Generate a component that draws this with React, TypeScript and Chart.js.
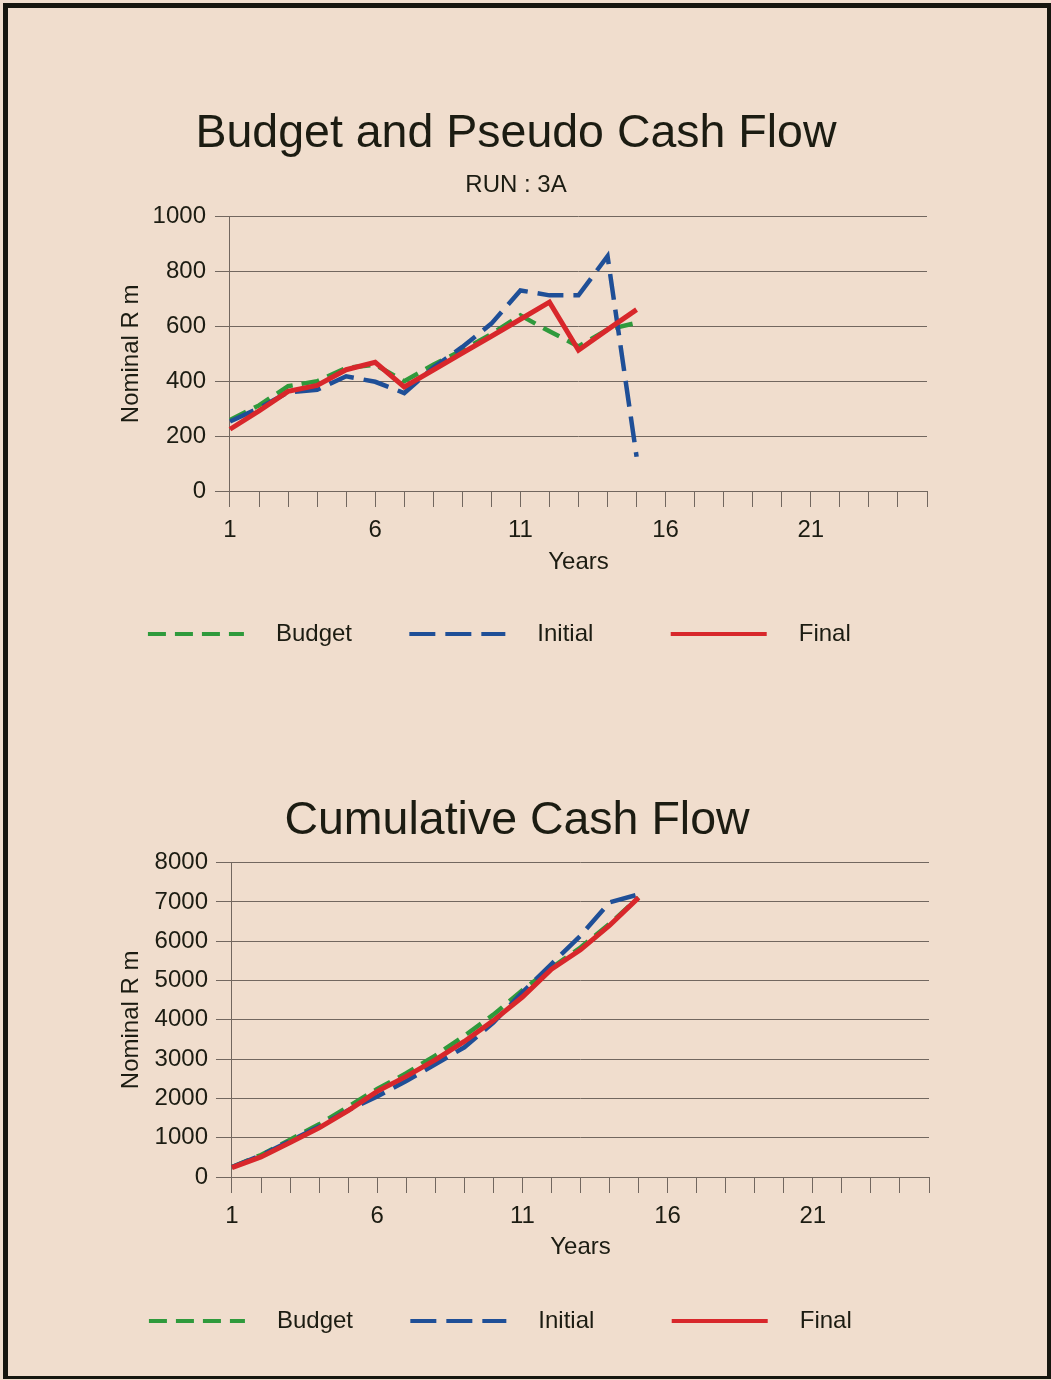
import React, { useEffect, useRef } from 'react';
import { Chart, registerables } from 'chart.js';

Chart.register(...registerables);

// ---- data ----
const years = ['1', '2', '3', '4', '5', '6', '7', '8', '9', '10', '11', '12', '13', '14', '15', '16', '17', '18', '19', '20', '21', '22', '23', '24', '25'];

const budgetFlow = [259, 312, 382, 400, 448, 460, 400, 460, 513, 572, 640, 582, 527, 588, 613];
const initialFlow = [253, 302, 360, 369, 418, 398, 357, 450, 525, 610, 731, 713, 713, 856, 125];
const finalFlow = [225, 292, 363, 385, 442, 469, 379, 441, 503, 564, 626, 688, 513, 588, 661];

const budgetCum = [253, 560, 950, 1340, 1790, 2240, 2640, 3090, 3590, 4130, 4750, 5320, 5840, 6440, 7110];
const initialCum = [253, 555, 915, 1285, 1700, 2050, 2440, 2870, 3300, 3930, 4700, 5420, 6140, 6990, 7190];
const finalCum = [240, 510, 880, 1250, 1690, 2180, 2560, 2980, 3450, 3980, 4580, 5290, 5780, 6400, 7110];

const seriesNames = ['Budget', 'Initial', 'Final'];

// ---- styles ----
const FONT = "'Liberation Sans', Arial, Helvetica, sans-serif";
const TEXT = '#1c1c12';
const GRID = '#72675f';
const BG = '#f0ddcd';
const GREEN = '#2f9a3c';
const BLUE = '#1f4f97';
const RED = '#d8272b';
const COLORS = [GREEN, BLUE, RED];
const DASHES = [[18, 9], [26, 10], []];
const WIDTHS = [4.5, 4.5, 5];

type Cfg = {
  title: string;
  subtitle?: string;
  data: number[][];
  yMax: number;
  yStep: number;
  layout: { left: number; right: number; top: number; bottom: number };
  titlePad: { top: number; bottom: number };
  subtitlePad: { top: number; bottom: number };
  yTitlePad: { top: number; bottom: number };
  yTickPad: number;
  yTickLen: number;
  xTickPad: number;
  xTitlePad: { top: number; bottom: number };
};

function buildConfig(c: Cfg): any {
  const orders = [2, 1, 0];
  const lead = '   ';
  const trail = ['     ', '        ', '     '];
  return {
    type: 'line',
    data: {
      labels: years,
      datasets: c.data.map((d, i) => ({
        label: seriesNames[i],
        data: d,
        borderColor: COLORS[i],
        backgroundColor: COLORS[i],
        borderWidth: WIDTHS[i],
        borderDash: DASHES[i],
        pointRadius: 0,
        tension: 0,
        fill: false,
        order: orders[i],
      })),
    },
    options: {
      responsive: false,
      animation: false,
      layout: { padding: c.layout },
      plugins: {
        tooltip: { enabled: false },
        title: {
          display: true,
          text: c.title,
          color: TEXT,
          font: { family: FONT, size: 46.5, weight: 'normal', lineHeight: 1.2 },
          padding: c.titlePad,
        },
        subtitle: {
          display: !!c.subtitle,
          text: c.subtitle || '',
          color: TEXT,
          font: { family: FONT, size: 24, weight: 'normal', lineHeight: 1.2 },
          padding: c.subtitlePad,
        },
        legend: {
          display: true,
          position: 'bottom',
          align: 'center',
          labels: {
            usePointStyle: true,
            pointStyle: 'line',
            pointStyleWidth: 96,
            padding: 24,
            color: TEXT,
            font: { family: FONT, size: 24, lineHeight: 1.2 },
            sort: (a: any, b: any) => a.datasetIndex - b.datasetIndex,
            generateLabels: (chart: any) =>
              Chart.defaults.plugins.legend.labels
                .generateLabels(chart)
                .map((l: any) => ({
                  ...l,
                  text: lead + l.text + trail[l.datasetIndex],
                  lineWidth: 4,
                  lineDash: DASHES[l.datasetIndex],
                  strokeStyle: COLORS[l.datasetIndex],
                  lineCap: 'butt',
                })),
          },
        },
      },
      scales: {
        x: {
          type: 'category',
          offset: false,
          border: { display: true, color: GRID, width: 1 },
          grid: { drawOnChartArea: false, drawTicks: true, tickLength: 16, color: GRID, lineWidth: 1 },
          ticks: {
            autoSkip: false,
            maxRotation: 0,
            padding: c.xTickPad,
            color: TEXT,
            font: { family: FONT, size: 24, lineHeight: 1.2 },
            callback: (_v: any, i: number) => (i % 5 === 0 ? years[i] : ''),
          },
          title: {
            display: true,
            text: 'Years',
            color: TEXT,
            font: { family: FONT, size: 24, lineHeight: 0.5 },
            padding: c.xTitlePad,
          },
        },
        y: {
          min: 0,
          max: c.yMax,
          border: { display: true, color: GRID, width: 1 },
          grid: { drawOnChartArea: true, drawTicks: true, tickLength: c.yTickLen, color: GRID, lineWidth: 1 },
          ticks: {
            stepSize: c.yStep,
            padding: c.yTickPad,
            color: TEXT,
            font: { family: FONT, size: 24, lineHeight: 1.2 },
            callback: (v: any) => String(v),
          },
          title: {
            display: true,
            text: 'Nominal R m',
            color: TEXT,
            font: { family: FONT, size: 24, lineHeight: 1.0 },
            padding: c.yTitlePad,
          },
        },
      },
    },
  };
}

function ChartCanvas({ cfg, top, height }: { cfg: Cfg; top: number; height: number }) {
  const ref = useRef<HTMLCanvasElement | null>(null);
  useEffect(() => {
    if (!ref.current) return;
    const chart = new Chart(ref.current, buildConfig(cfg));
    return () => chart.destroy();
  }, []);
  return (
    <canvas
      ref={ref}
      width={1051}
      height={height}
      style={{ position: 'absolute', left: 0, top, width: 1051, height }}
    />
  );
}

const cfgTop: Cfg = {
  title: 'Budget and Pseudo Cash Flow',
  subtitle: 'RUN : 3A',
  data: [budgetFlow, initialFlow, finalFlow],
  yMax: 1000,
  yStep: 200,
  layout: { left: 105, right: 124, top: 0, bottom: 34 },
  titlePad: { top: 16.4, bottom: 0 },
  subtitlePad: { top: 9, bottom: 16.6 },
  yTitlePad: { top: 14, bottom: 0.6 },
  yTickPad: 9,
  yTickLen: 15,
  xTickPad: 8.6,
  xTitlePad: { top: 3, bottom: 30 },
};

const cfgBottom: Cfg = {
  title: 'Cumulative Cash Flow',
  data: [budgetCum, initialCum, finalCum],
  yMax: 8000,
  yStep: 1000,
  layout: { left: 105, right: 122, top: 0, bottom: 27 },
  titlePad: { top: 33.4, bottom: 13.4 },
  subtitlePad: { top: 0, bottom: 0 },
  yTitlePad: { top: 14, bottom: 3.6 },
  yTickPad: 8,
  yTickLen: 16,
  xTickPad: 8.6,
  xTitlePad: { top: 2, bottom: 32 },
};

export default function App() {
  return (
    <div
      style={{
        position: 'absolute',
        left: 0,
        top: 0,
        width: 1051,
        height: 1380,
        background: BG,
        overflow: 'hidden',
      }}
    >
      <div
        style={{
          position: 'absolute',
          left: 3,
          top: 3,
          width: 1048,
          height: 1376,
          boxSizing: 'border-box',
          borderTop: '5px solid #16160f',
          borderLeft: '5px solid #16160f',
          borderRight: '4px solid #16160f',
          borderBottom: '3px solid #16160f',
        }}
      />
      <ChartCanvas cfg={cfgTop} top={90} height={600} />
      <ChartCanvas cfg={cfgBottom} top={760} height={610} />
    </div>
  );
}
